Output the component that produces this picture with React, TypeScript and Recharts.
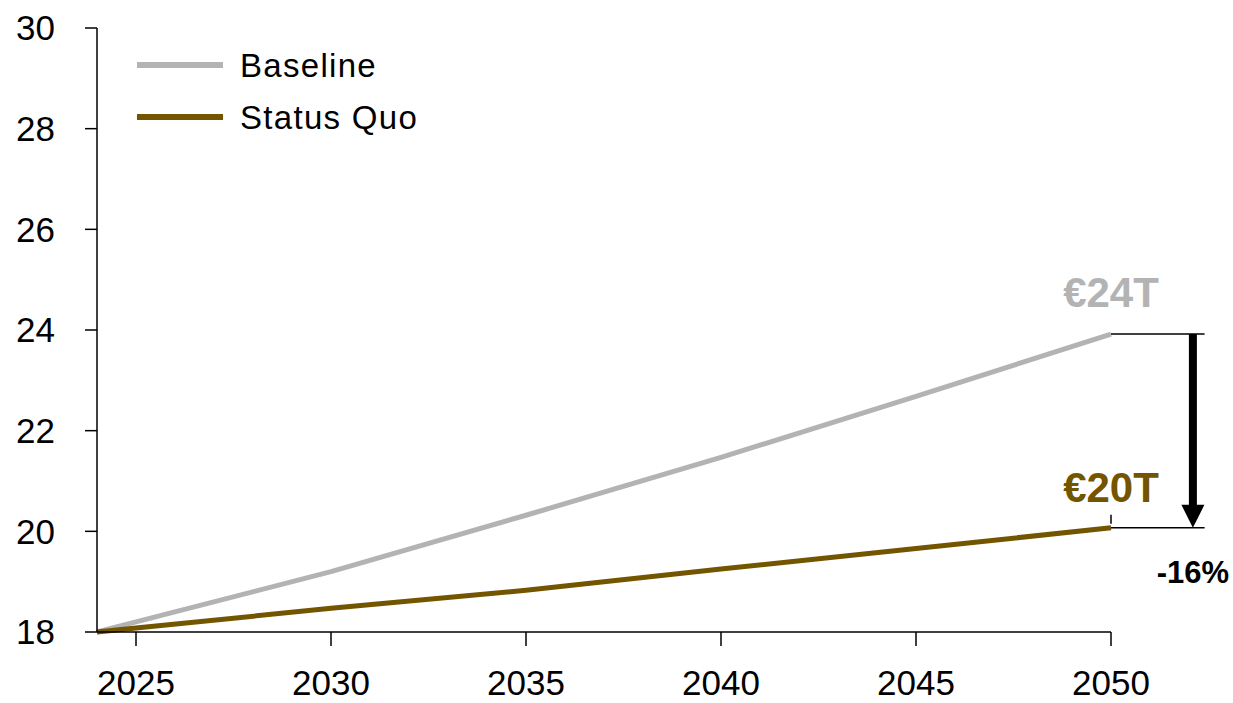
import React from 'react';
import {
  LineChart,
  Line,
  XAxis,
  YAxis,
  ReferenceLine,
  ReferenceDot,
  Legend,
} from 'recharts';

// Projected economy size (trillion €), 2024–2050
const years = [2024, 2025, 2030, 2035, 2040, 2045, 2050];
const baseline = [18.0, 18.2, 19.2, 20.32, 21.47, 22.68, 23.92];
const statusQuo = [18.0, 18.08, 18.47, 18.83, 19.25, 19.66, 20.07];

const xTicks = [2025, 2030, 2035, 2040, 2045, 2050];
const yTicks = [18, 20, 22, 24, 26, 28, 30];

const seriesNames = ['Baseline', 'Status Quo'];
const seriesColors = ['#B3B3B3', '#735500'];

const endLabels = ['€24T', '€20T'];
const gapLabel = '-16%';
const bracketEnd = 2052.4; // where the comparison bracket stops
const arrowX = 2052.1;

const data = years.map((year, i) => ({
  year,
  baseline: baseline[i],
  statusQuo: statusQuo[i],
}));

const lastBase = baseline[baseline.length - 1];
const lastSq = statusQuo[statusQuo.length - 1];

const FONT = '"Liberation Sans", Arial, sans-serif';

const renderLegend = () => (
  <svg width={300} height={80} style={{ overflow: 'visible', display: 'block' }}>
    {seriesNames.map((name, i) => (
      <g key={name}>
        <line
          x1={0}
          x2={86}
          y1={8 + i * 52}
          y2={8 + i * 52}
          stroke={seriesColors[i]}
          strokeWidth={6}
        />
        <text
          x={103}
          y={8 + i * 52}
          dy="0.36em"
          fontFamily={FONT}
          fontSize={33}
          letterSpacing={1.3}
          fill="#000"
        >
          {name}
        </text>
      </g>
    ))}
  </svg>
);

const makeLabel =
  (text: string, color: string, size: number, dx: number, dy: number) =>
  (props: any) => {
    const vb = props.viewBox || {};
    const cx = (vb.x ?? 0) + (vb.width ?? 0) / 2;
    const cy = (vb.y ?? 0) + (vb.height ?? 0) / 2;
    return (
      <text
        x={cx + dx}
        y={cy + dy}
        textAnchor="middle"
        fontFamily={FONT}
        fontWeight="bold"
        fontSize={size}
        fill={color}
      >
        {text}
      </text>
    );
  };

const ArrowShape = (props: any) => {
  const { x1, y1, x2, y2 } = props;
  const head = 23;
  return (
    <g>
      <line x1={x1} y1={y1} x2={x2} y2={y2 - head + 1} stroke="#000" strokeWidth={8} />
      <polygon
        points={`${x2 - 11.5},${y2 - head} ${x2 + 11.5},${y2 - head} ${x2},${y2}`}
        fill="#000"
      />
    </g>
  );
};

export default function App() {
  return (
    <div style={{ position: 'absolute', left: 0, top: 0, background: '#fff' }}>
      <LineChart
        width={1233}
        height={703}
        data={data}
        margin={{ top: 28, right: 122, left: 0, bottom: 0 }}
      >
        <XAxis
          dataKey="year"
          type="number"
          domain={[2024, 2050]}
          ticks={xTicks}
          height={71}
          tickSize={14}
          tickMargin={24}
          axisLine={{ stroke: '#000', strokeWidth: 1.5 }}
          tickLine={{ stroke: '#000', strokeWidth: 1.5 }}
          tick={{ fill: '#000', fontSize: 35, fontFamily: FONT }}
        />
        <YAxis
          type="number"
          domain={[18, 30]}
          ticks={yTicks}
          width={97}
          tickSize={12}
          tickMargin={30}
          axisLine={{ stroke: '#000', strokeWidth: 1.5 }}
          tickLine={{ stroke: '#000', strokeWidth: 1.5 }}
          tick={{ fill: '#000', fontSize: 35, fontFamily: FONT }}
        />
        <Legend
          content={renderLegend}
          wrapperStyle={{
            position: 'absolute',
            left: 137,
            top: 57,
            width: 0,
            height: 0,
            overflow: 'visible',
          }}
        />
        <Line
          dataKey="baseline"
          name={seriesNames[0]}
          stroke={seriesColors[0]}
          strokeWidth={5}
          dot={false}
          type="linear"
          isAnimationActive={false}
        />
        <Line
          dataKey="statusQuo"
          name={seriesNames[1]}
          stroke={seriesColors[1]}
          strokeWidth={5}
          dot={false}
          type="linear"
          isAnimationActive={false}
        />
        {/* comparison bracket */}
        <ReferenceLine
          segment={[
            { x: 2050, y: lastBase },
            { x: bracketEnd, y: lastBase },
          ]}
          stroke="#000"
          strokeWidth={1.5}
          ifOverflow="visible"
        />
        <ReferenceLine
          segment={[
            { x: 2050, y: lastSq },
            { x: bracketEnd, y: lastSq },
          ]}
          stroke="#000"
          strokeWidth={1.5}
          ifOverflow="visible"
        />
        <ReferenceLine
          segment={[
            { x: 2050, y: lastSq + 0.08 },
            { x: 2050, y: lastSq + 0.26 },
          ]}
          stroke="#000"
          strokeWidth={1.5}
          ifOverflow="visible"
        />
        <ReferenceLine
          segment={[
            { x: arrowX, y: lastBase },
            { x: arrowX, y: lastSq },
          ]}
          shape={ArrowShape}
          ifOverflow="visible"
        />
        <ReferenceDot
          x={2050}
          y={lastBase}
          r={1}
          fill="none"
          stroke="none"
          ifOverflow="visible"
          label={makeLabel(endLabels[0], seriesColors[0], 42, 0, -27)}
        />
        <ReferenceDot
          x={2050}
          y={lastSq}
          r={1}
          fill="none"
          stroke="none"
          ifOverflow="visible"
          label={makeLabel(endLabels[1], seriesColors[1], 42, 0, -26)}
        />
        <ReferenceDot
          x={arrowX}
          y={lastSq}
          r={1}
          fill="none"
          stroke="none"
          ifOverflow="visible"
          label={makeLabel(gapLabel, '#000', 31, 0, 55)}
        />
      </LineChart>
    </div>
  );
}
